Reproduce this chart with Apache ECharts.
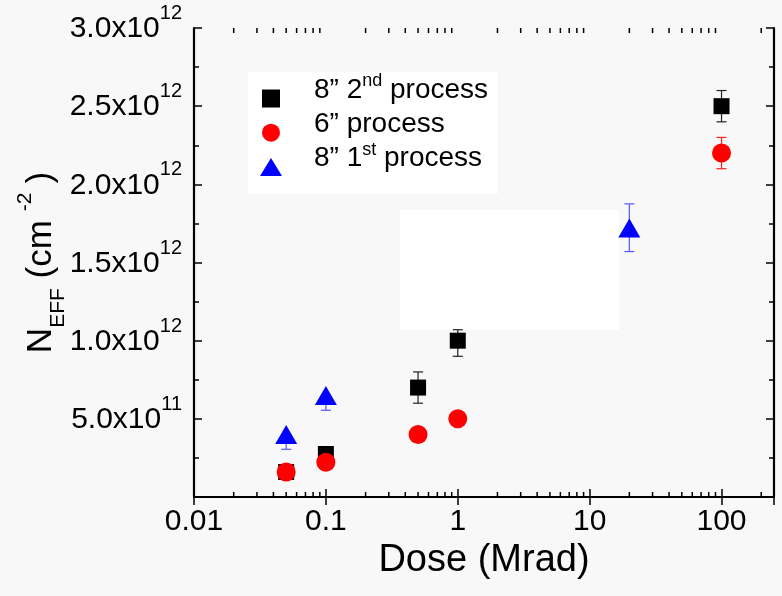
<!DOCTYPE html>
<html>
<head>
<meta charset="utf-8">
<script src="https://cdn.jsdelivr.net/npm/echarts@6/dist/echarts.min.js"></script>
<style>
  html, body { margin: 0; padding: 0; background: #f8f8f8; }
  #chart { width: 782px; height: 596px; }
</style>
</head>
<body>
<div id="chart"></div>
<script>
// Effective doping concentration versus total ionising dose
const seriesNames = ['8” 2nd process', '6” process', '8” 1st process'];

// 8" wafers, 2nd process
const doseSquare = [0.05, 0.1, 0.5, 1, 100];
const neffSquare = [0.16e12, 0.275e12, 0.70e12, 1.0e12, 2.5e12];
const errLowSquare = [null, 0.235e12, 0.60e12, 0.90e12, 2.40e12];
const errHighSquare = [null, 0.315e12, 0.80e12, 1.07e12, 2.60e12];

// 6" wafers
const doseCircle = [0.05, 0.1, 0.5, 1, 100];
const neffCircle = [0.16e12, 0.222e12, 0.40e12, 0.50e12, 2.2e12];
const errLowCircle = [null, null, null, null, 2.10e12];
const errHighCircle = [null, null, null, null, 2.30e12];

// 8" wafers, 1st process
const doseTriangle = [0.05, 0.1, 20];
const neffTriangle = [0.40e12, 0.65e12, 1.72e12];
const errLowTriangle = [0.305e12, 0.555e12, 1.57e12];
const errHighTriangle = [0.40e12, 0.65e12, 1.875e12];

// Axis tick labels
const xTickLabels = ['0.01', '0.1', '1', '10', '100'];
const yTickMantissa = ['5.0x10', '1.0x10', '1.5x10', '2.0x10', '2.5x10', '3.0x10'];
const yTickExponent = ['11', '12', '12', '12', '12', '12'];

const X_MIN = 0.01, X_MAX = 250;
const Y_MIN = 0, Y_MAX = 3e12, Y_STEP = 0.5e12;
const FONT = '"Liberation Sans", Arial, sans-serif';

const legendText = {
  '8” 2nd process': '8” 2{sup|nd} process',
  '6” process': '6” process',
  '8” 1st process': '8” 1{sup|st} process'
};

function pairs(xs, ys) { return xs.map((x, i) => [x, ys[i]]); }
function bars(xs, lo, hi) {
  const out = [];
  xs.forEach((x, i) => { if (lo[i] != null) out.push([x, lo[i], hi[i]]); });
  return out;
}

// positions of the 2..9 minor ticks of every decade on the log axis
const minorDose = [];
for (let d = -2; d <= 2; d++) {
  for (let m = 2; m <= 9; m++) {
    const v = m * Math.pow(10, d);
    if (v > X_MIN && v < X_MAX) minorDose.push([v, Y_MIN]);
  }
}

function errorBarRenderer(color) {
  return function (params, api) {
    const x = api.value(0);
    const lo = api.coord([x, api.value(1)]);
    const hi = api.coord([x, api.value(2)]);
    const w = 5;
    const st = { stroke: color, lineWidth: 1.2 };
    return {
      type: 'group',
      children: [
        { type: 'line', shape: { x1: lo[0], y1: lo[1], x2: hi[0], y2: hi[1] }, style: st },
        { type: 'line', shape: { x1: lo[0] - w, y1: lo[1], x2: lo[0] + w, y2: lo[1] }, style: st },
        { type: 'line', shape: { x1: hi[0] - w, y1: hi[1], x2: hi[0] + w, y2: hi[1] }, style: st }
      ]
    };
  };
}

function minorTickRenderer(params, api) {
  const v = api.value(0);
  const b = api.coord([v, Y_MIN]);
  const t = api.coord([v, Y_MAX]);
  const st = { stroke: '#000', lineWidth: 1.5 };
  return {
    type: 'group',
    children: [
      { type: 'line', shape: { x1: b[0], y1: b[1], x2: b[0], y2: b[1] - 5 }, style: st },
      { type: 'line', shape: { x1: t[0], y1: t[1], x2: t[0], y2: t[1] + 5 }, style: st }
    ]
  };
}

function xLabel(value) {
  const e = Math.round(Math.log10(value));
  if (Math.abs(Math.log10(value) - e) > 1e-6) return '';
  return xTickLabels[e + 2] || '';
}

function yLabel(value) {
  const idx = Math.round(value / Y_STEP) - 1;
  if (idx < 0 || idx >= yTickMantissa.length) return '';
  return '{m|' + yTickMantissa[idx] + '}{e|' + yTickExponent[idx] + '}';
}

const axisLineStyle = { color: '#000', width: 2.2 };
const tickStyle = { color: '#000', width: 1.5 };

const chart = echarts.init(document.getElementById('chart'), null, { renderer: 'canvas' });
chart.setOption({
  animation: false,
  backgroundColor: '#f8f8f8',
  textStyle: { fontFamily: FONT },
  grid: { left: 194, right: 8, top: 28, bottom: 99, containLabel: false, outerBoundsMode: 'none' },
  graphic: [{
    type: 'rect', left: 400, top: 210, silent: true, z: 0,
    shape: { width: 219, height: 120 }, style: { fill: '#ffffff' }
  }],
  legend: {
    orient: 'vertical', left: 248, top: 72,
    itemWidth: 22, itemHeight: 18, itemGap: -18.8,
    padding: [0, 10, 0, 12],
    backgroundColor: '#ffffff',
    selectedMode: false,
    data: [
      { name: seriesNames[0], icon: 'path://M0,0H10V10H0Z' },
      { name: seriesNames[1], icon: 'circle' },
      { name: seriesNames[2], icon: 'triangle' }
    ],
    formatter: name => legendText[name],
    textStyle: {
      fontSize: 28, lineHeight: 36, color: '#000', fontFamily: FONT,
      padding: [0, 0, 17, 27],
      backgroundColor: 'rgba(255,255,255,0)',
      rich: { sup: { fontSize: 18, lineHeight: 18, color: '#000', fontFamily: FONT, padding: [0, 0, 17, 0] } }
    }
  },
  xAxis: [{
    type: 'log', logBase: 10, min: X_MIN, max: X_MAX, position: 'bottom',
    axisLine: { lineStyle: axisLineStyle },
    axisTick: { inside: true, length: 8, lineStyle: tickStyle },
    axisLabel: { margin: 10, fontSize: 30, color: '#000', fontFamily: FONT, formatter: xLabel },
    splitLine: { show: false },
    name: 'Dose (Mrad)', nameLocation: 'middle', nameGap: 45, nameMoveOverlap: false,
    nameTextStyle: { fontSize: 38, color: '#000', fontFamily: FONT }
  }, {
    type: 'log', logBase: 10, min: X_MIN, max: X_MAX, position: 'top',
    axisLine: { lineStyle: axisLineStyle },
    axisTick: { inside: true, length: 8, lineStyle: tickStyle },
    axisLabel: { show: false },
    splitLine: { show: false }
  }],
  yAxis: [{
    type: 'value', min: Y_MIN, max: Y_MAX, interval: Y_STEP, position: 'left',
    axisLine: { show: true, lineStyle: axisLineStyle },
    axisTick: { show: true, inside: true, length: 8, lineStyle: tickStyle },
    minorTick: { show: true, splitNumber: 2, length: 5, lineStyle: tickStyle },
    axisLabel: {
      margin: 12, color: '#000', fontFamily: FONT, formatter: yLabel,
      rich: {
        m: { fontSize: 30, color: '#000', fontFamily: FONT, padding: [2, 0, 0, 0] },
        e: { fontSize: 20, color: '#000', fontFamily: FONT, padding: [0, 0, 29, 0] }
      }
    },
    splitLine: { show: false },
    name: '{n|N}{sub|EFF}{n| (cm}{sup|-2}{n|)}',
    nameLocation: 'middle', nameGap: 125, nameMoveOverlap: false,
    nameTextStyle: {
      color: '#000', fontFamily: FONT,
      rich: {
        n: { fontSize: 35, color: '#000', fontFamily: FONT },
        sub: { fontSize: 21, color: '#000', fontFamily: FONT, padding: [35, 0, 0, 0] },
        sup: { fontSize: 21, color: '#000', fontFamily: FONT, padding: [0, 9, 32, 9] }
      }
    }
  }, {
    type: 'value', min: Y_MIN, max: Y_MAX, interval: Y_STEP, position: 'right',
    axisLine: { show: true, lineStyle: axisLineStyle },
    axisTick: { show: true, inside: true, length: 8, lineStyle: tickStyle },
    minorTick: { show: true, splitNumber: 2, length: 5, lineStyle: tickStyle },
    axisLabel: { show: false },
    splitLine: { show: false }
  }],
  series: [
    {
      type: 'custom', name: 'minor ticks', silent: true, clip: false, z: 3,
      xAxisIndex: 0, yAxisIndex: 0,
      renderItem: minorTickRenderer, data: minorDose
    },
    {
      type: 'custom', silent: true, z: 1, xAxisIndex: 0, yAxisIndex: 0,
      encode: { x: 0, y: [1, 2] },
      renderItem: errorBarRenderer('#222222'),
      data: bars(doseSquare, errLowSquare, errHighSquare)
    },
    {
      type: 'custom', silent: true, z: 1, xAxisIndex: 0, yAxisIndex: 0,
      encode: { x: 0, y: [1, 2] },
      renderItem: errorBarRenderer('#ff2020'),
      data: bars(doseCircle, errLowCircle, errHighCircle)
    },
    {
      type: 'custom', silent: true, z: 1, xAxisIndex: 0, yAxisIndex: 0,
      encode: { x: 0, y: [1, 2] },
      renderItem: errorBarRenderer('#5555ff'),
      data: bars(doseTriangle, errLowTriangle, errHighTriangle)
    },
    {
      type: 'scatter', name: seriesNames[0], z: 2,
      symbol: 'rect', symbolSize: [16, 16],
      itemStyle: { color: '#000000', opacity: 1 },
      data: pairs(doseSquare, neffSquare)
    },
    {
      type: 'scatter', name: seriesNames[1], z: 2,
      symbol: 'circle', symbolSize: 19,
      itemStyle: { color: '#ff0000', opacity: 1 },
      data: pairs(doseCircle, neffCircle)
    },
    {
      type: 'scatter', name: seriesNames[2], z: 2,
      symbol: 'triangle', symbolSize: [22, 19],
      itemStyle: { color: '#0000ff', opacity: 1 },
      data: pairs(doseTriangle, neffTriangle)
    }
  ]
});
</script>
</body>
</html>
